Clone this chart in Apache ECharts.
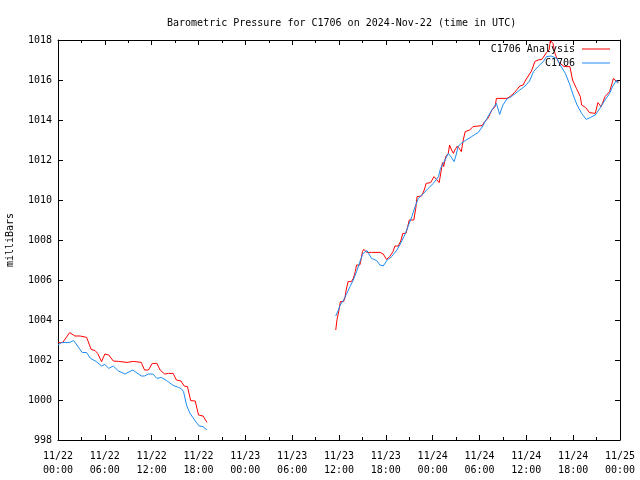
<!DOCTYPE html>
<html>
<head>
<meta charset="utf-8">
<script src="https://cdn.jsdelivr.net/npm/echarts@6/dist/echarts.min.js"></script>
<style>html,body{margin:0;padding:0;background:#fff}#c{width:640px;height:480px}</style>
</head>
<body>
<div id="c"></div>
<script>
// ---- data (UTC times, "MM/DD HH:MM"; null marks the data gap) ----
var analysisTimes = [
 '11/22 00:00','11/22 00:35','11/22 01:30','11/22 02:10','11/22 02:50','11/22 03:40','11/22 04:15','11/22 04:45',
 '11/22 05:05','11/22 05:35','11/22 06:00','11/22 06:30','11/22 07:05','11/22 07:45','11/22 08:50','11/22 09:40',
 '11/22 10:40','11/22 11:05','11/22 11:35','11/22 12:05','11/22 12:40','11/22 13:05','11/22 13:40','11/22 14:10',
 '11/22 14:45','11/22 15:10','11/22 15:45','11/22 16:10','11/22 16:35','11/22 17:00','11/22 17:35','11/22 18:00',
 '11/22 18:35','11/22 19:05',
 '11/23 03:00',
 '11/23 11:35','11/23 11:45','11/23 12:00','11/23 12:10','11/23 12:35','11/23 12:45','11/23 12:55','11/23 13:10',
 '11/23 13:35','11/23 13:50','11/23 14:05','11/23 14:15','11/23 14:40','11/23 14:50','11/23 15:00','11/23 15:10',
 '11/23 15:35','11/23 16:10','11/23 17:15','11/23 17:40','11/23 18:05','11/23 18:30','11/23 18:55','11/23 19:10',
 '11/23 19:35','11/23 19:55','11/23 20:10','11/23 20:35','11/23 20:45','11/23 21:00','11/23 21:35','11/23 21:50',
 '11/23 22:00','11/23 22:35','11/23 22:55','11/23 23:10','11/23 23:45','11/24 00:10','11/24 00:30','11/24 00:50',
 '11/24 01:00','11/24 01:15','11/24 01:25','11/24 01:40','11/24 02:00','11/24 02:10','11/24 02:25','11/24 02:40',
 '11/24 02:50','11/24 03:10','11/24 03:25','11/24 03:40','11/24 03:55','11/24 04:10','11/24 04:45','11/24 05:10',
 '11/24 06:20','11/24 06:40','11/24 07:05','11/24 07:35','11/24 08:00','11/24 08:10','11/24 09:30','11/24 09:55',
 '11/24 10:30','11/24 11:10','11/24 11:35','11/24 11:55','11/24 12:25','11/24 12:40','11/24 13:05','11/24 13:30',
 '11/24 14:00','11/24 14:35','11/24 14:55','11/24 15:05','11/24 15:25','11/24 15:40','11/24 16:05','11/24 16:50',
 '11/24 17:35','11/24 17:55','11/24 18:25','11/24 18:55','11/24 19:05','11/24 19:35','11/24 20:05','11/24 20:50',
 '11/24 21:10','11/24 21:35','11/24 22:05','11/24 22:40','11/24 23:10','11/24 23:35','11/24 23:50'
];
var analysisValues = [
 1002.87,1002.87,1003.37,1003.2,1003.2,1003.13,1002.53,1002.47,
 1002.33,1001.92,1002.3,1002.25,1001.95,1001.93,1001.88,1001.93,
 1001.88,1001.5,1001.5,1001.83,1001.83,1001.5,1001.3,1001.33,
 1001.33,1001.0,1000.95,1000.7,1000.67,999.97,999.95,999.25,
 999.2,998.88,
 null,
 1003.5,1004.03,1004.5,1004.92,1004.92,1005.08,1005.5,1005.92,
 1005.92,1006.08,1006.42,1006.75,1006.75,1007.03,1007.42,1007.53,
 1007.38,1007.38,1007.38,1007.3,1007.03,1007.17,1007.42,1007.7,
 1007.7,1007.95,1008.33,1008.33,1008.58,1009.0,1009.0,1009.58,
 1010.17,1010.2,1010.5,1010.83,1010.87,1011.17,1011.03,1010.87,
 1011.25,1011.87,1011.67,1012.17,1012.33,1012.75,1012.5,1012.33,
 1012.5,1012.7,1012.58,1012.42,1013.0,1013.42,1013.5,1013.67,
 1013.72,1013.92,1014.08,1014.5,1014.67,1015.08,1015.08,1015.17,
 1015.38,1015.7,1015.75,1016.0,1016.3,1016.45,1016.92,1017.0,
 1017.03,1017.37,1017.5,1017.97,1017.83,1017.33,1016.92,1016.67,
 1016.67,1016.0,1015.58,1015.17,1014.75,1014.63,1014.37,1014.33,
 1014.87,1014.67,1015.17,1015.42,1016.08,1015.92,1015.9
];
var obsTimes = [
 '11/22 00:00','11/22 00:25','11/22 01:30','11/22 02:00','11/22 02:20','11/22 03:05','11/22 03:40','11/22 04:10',
 '11/22 04:55','11/22 05:35','11/22 06:00','11/22 06:30','11/22 07:05','11/22 07:45','11/22 08:35','11/22 09:35',
 '11/22 10:40','11/22 11:05','11/22 11:35','11/22 12:10','11/22 12:40','11/22 13:15','11/22 13:55','11/22 14:45',
 '11/22 15:25','11/22 15:45','11/22 16:05','11/22 16:30','11/22 16:55','11/22 17:35','11/22 18:05','11/22 18:35',
 '11/22 19:05',
 '11/23 03:00',
 '11/23 11:35','11/23 11:55','11/23 12:10','11/23 12:35','11/23 13:00','11/23 13:25','11/23 13:50','11/23 14:15',
 '11/23 14:45','11/23 15:05','11/23 15:35','11/23 16:10','11/23 16:50','11/23 17:15','11/23 17:40','11/23 18:10',
 '11/23 18:45','11/23 19:25','11/23 19:55','11/23 20:25','11/23 20:55','11/23 21:20','11/23 21:45','11/23 22:10',
 '11/23 22:50','11/23 23:25','11/24 00:05','11/24 00:45','11/24 01:00','11/24 01:35','11/24 02:00','11/24 02:20',
 '11/24 02:35','11/24 02:45','11/24 03:00','11/24 03:15','11/24 03:40','11/24 04:10','11/24 05:00','11/24 05:25',
 '11/24 05:50','11/24 06:20','11/24 06:55','11/24 07:35','11/24 08:10','11/24 08:35','11/24 09:00','11/24 09:30',
 '11/24 10:05','11/24 11:00','11/24 11:50','11/24 12:25','11/24 12:55','11/24 13:30','11/24 14:10','11/24 14:35',
 '11/24 15:10','11/24 15:55','11/24 16:20','11/24 17:00','11/24 17:35','11/24 18:00','11/24 18:30','11/24 19:05',
 '11/24 19:40','11/24 20:10','11/24 20:50','11/24 21:25','11/24 22:05','11/24 22:40','11/24 23:05','11/24 23:35',
 '11/24 23:40'
];
var obsValues = [
 1002.75,1002.87,1002.88,1002.97,1002.8,1002.38,1002.37,1002.08,
 1001.92,1001.7,1001.78,1001.58,1001.7,1001.45,1001.3,1001.5,
 1001.2,1001.2,1001.3,1001.3,1001.08,1001.13,1000.97,1000.73,
 1000.63,1000.58,1000.42,999.7,999.33,998.95,998.7,998.67,
 998.5,
 null,
 1004.2,1004.5,1004.75,1005.0,1005.33,1005.67,1006.0,1006.42,
 1007.0,1007.33,1007.47,1007.08,1006.97,1006.75,1006.7,1007.0,
 1007.17,1007.5,1007.85,1008.25,1008.75,1009.17,1009.67,1010.08,
 1010.33,1010.58,1010.83,1011.17,1011.58,1012.0,1012.33,1012.17,
 1012.25,1011.92,1012.25,1012.67,1012.83,1012.97,1013.17,1013.28,
 1013.37,1013.65,1014.05,1014.5,1014.83,1014.28,1014.75,1015.05,
 1015.17,1015.45,1015.7,1015.95,1016.42,1016.67,1016.92,1017.17,
 1017.2,1017.08,1016.75,1016.33,1015.75,1015.25,1014.75,1014.33,
 1014.03,1014.12,1014.25,1014.58,1015.0,1015.33,1015.7,1016.0,
 1015.83
];
var yTicks = [998, 1000, 1002, 1004, 1006, 1008, 1010, 1012, 1014, 1016, 1018];

function toMs(s) {
  var mo = +s.slice(0, 2), d = +s.slice(3, 5), h = +s.slice(6, 8), mi = +s.slice(9, 11);
  return Date.UTC(2024, mo - 1, d, h, mi);
}
function pairs(ts, vs) { return ts.map(function (t, i) { return [toMs(t), vs[i]]; }); }
function pad(n) { return (n < 10 ? '0' : '') + n; }

var FONT = 'DejaVu Sans Mono';
var tStart = Date.UTC(2024, 10, 22), tEnd = Date.UTC(2024, 10, 25), SIX_H = 6 * 3600 * 1000;

var xCommon = {
  type: 'value', min: tStart, max: tEnd, interval: SIX_H,
  axisLine: { show: true, onZero: false, lineStyle: { color: '#000', width: 1 } },
  axisTick: { show: true, inside: true, length: 5, lineStyle: { color: '#000' } },
  minorTick: { show: true, splitNumber: 2, length: 3, lineStyle: { color: '#000' } },
  splitLine: { show: false }
};
var yCommon = {
  type: 'value', min: yTicks[0], max: yTicks[yTicks.length - 1], interval: 2,
  axisLine: { show: true, onZero: false, lineStyle: { color: '#000', width: 1 } },
  axisTick: { show: true, inside: true, length: 5, lineStyle: { color: '#000' } },
  splitLine: { show: false }
};

var chart = echarts.init(document.getElementById('c'), null, { renderer: 'canvas' });
chart.setOption({
  animation: false,
  backgroundColor: '#fff',
  textStyle: { fontFamily: FONT },
  title: {
    text: 'Barometric Pressure for C1706 on 2024-Nov-22 (time in UTC)',
    left: 162, top: 13,
    textStyle: { fontFamily: FONT, fontSize: 10, fontWeight: 'normal', color: '#000' }
  },
  grid: { left: 58, right: 20, top: 40, bottom: 40, containLabel: false, outerBoundsMode: 'none' },
  legend: [
    { data: ['C1706 Analysis'], right: 30, top: 44, align: 'right', icon: 'rect', itemWidth: 28, itemHeight: 1,
      textStyle: { fontFamily: FONT, fontSize: 10, color: '#000', padding: [0, 2, 0, 0] }, selectedMode: false, padding: 0 },
    { data: ['C1706'], right: 30, top: 58, align: 'right', icon: 'rect', itemWidth: 28, itemHeight: 1,
      textStyle: { fontFamily: FONT, fontSize: 10, color: '#000', padding: [0, 2, 0, 0] }, selectedMode: false, padding: 0 }
  ],
  xAxis: [
    Object.assign({}, xCommon, {
      position: 'bottom',
      axisLabel: {
        show: true, margin: 9, fontFamily: FONT, fontSize: 10, color: '#000', lineHeight: 14,
        formatter: function (v) {
          var d = new Date(v);
          return pad(d.getUTCMonth() + 1) + '/' + pad(d.getUTCDate()) + '\n' + pad(d.getUTCHours()) + ':' + pad(d.getUTCMinutes());
        }
      }
    }),
    Object.assign({}, xCommon, { position: 'top', axisLabel: { show: false } })
  ],
  yAxis: [
    Object.assign({}, yCommon, {
      position: 'left',
      name: 'milliBars', nameLocation: 'middle', nameGap: 43, nameRotate: 90,
      nameTextStyle: { fontFamily: FONT, fontSize: 10, color: '#000' },
      axisLabel: { show: true, margin: 6, fontFamily: FONT, fontSize: 10, color: '#000',
        formatter: function (v) { return String(v); } }
    }),
    Object.assign({}, yCommon, { position: 'right', axisLabel: { show: false } })
  ],
  series: [
    { name: 'C1706 Analysis', type: 'line', xAxisIndex: 0, yAxisIndex: 0,
      data: pairs(analysisTimes, analysisValues), showSymbol: false, symbol: 'none',
      connectNulls: false, lineStyle: { color: '#ff0000', width: 1 }, itemStyle: { color: '#ff0000' },
      emphasis: { disabled: true } },
    { name: 'C1706', type: 'line', xAxisIndex: 0, yAxisIndex: 0,
      data: pairs(obsTimes, obsValues), showSymbol: false, symbol: 'none',
      connectNulls: false, lineStyle: { color: '#1e8cf0', width: 1 }, itemStyle: { color: '#1e8cf0' },
      emphasis: { disabled: true } }
  ]
});
</script>
</body>
</html>
